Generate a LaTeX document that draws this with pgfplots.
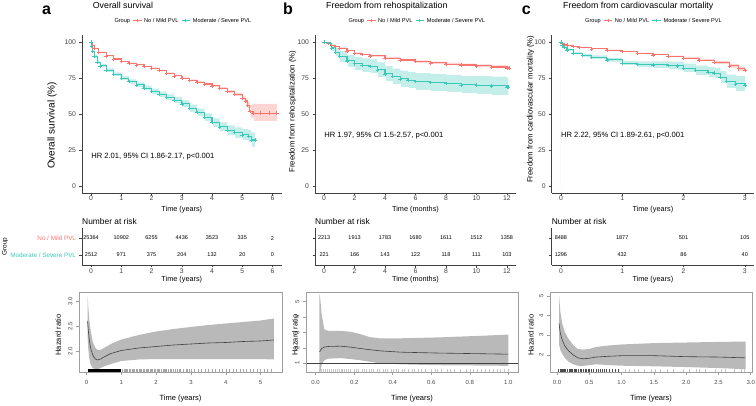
\documentclass[border=0pt]{standalone}
\usepackage{fontspec}
\setmainfont{Liberation Sans}
\usepackage{pgfplots}
\usepackage{pgfplotstable}
\pgfplotsset{compat=1.18}
\definecolor{kmred}{HTML}{F8766D}
\definecolor{kmteal}{HTML}{3CC8B9}
\definecolor{axc}{HTML}{404040}
\newcommand{\fs}[1]{\fontsize{#1}{#1}\selectfont}
\pgfplotsset{
 every axis/.append style={scale only axis, /pgf/number format/assume math mode=true},
 km/.style={height=158pt, ymin=-5, ymax=105, ytick={0,25,50,75,100}, axis on top,
   axis x line*=bottom, axis y line*=left,
   axis line style={-, axc, line width=0.5pt},
   tick align=outside, major tick length=2.5pt, tick style={axc, line width=0.5pt},
   ticklabel style={font=\fs{6.8}, text=black!75},
   xticklabel style={yshift=1.2pt, inner sep=1pt},
   xlabel style={font=\fs{7.3}, at={(axis description cs:0.5,-0.102)}, anchor=center, inner sep=1pt},
   ylabel style={font=\fs{7.8}, anchor=center}},
 risk/.style={height=37pt, ymin=0.4, ymax=2.6, ytick={1,2},
   axis x line*=bottom, axis y line*=left,
   axis line style={-, axc, line width=0.5pt},
   tick align=outside, major tick length=2.5pt, tick style={axc, line width=0.5pt},
   xticklabel style={font=\fs{6.8}, text=black!75, inner sep=1pt},
   yticklabel style={font=\fs{6.3}},
   xlabel style={font=\fs{7.3}, at={(axis description cs:0.5,-0.405)}, anchor=center, inner sep=1pt}},
 hr/.style={height=80pt, axis line style={gray!75, line width=0.5pt}, axis on top,
   tick align=outside, tick pos=left, major tick length=3pt, tick style={gray!75, line width=0.5pt},
   ticklabel style={font=\fs{6}, text=black!70},
   xticklabel style={yshift=-1.5pt},
   yticklabel style={rotate=90, anchor=south},
   xlabel style={font=\fs{7.5}, at={(axis description cs:0.5,-0.3375)}, anchor=center},
   ylabel style={font=\fs{7.5}, anchor=center}},
 kmline/.style={#1, const plot, line width=1.1pt, mark=+, mark size=1.8pt, mark options={line width=0.55pt}},
 riskn/.style={draw=none, nodes near coords, point meta=explicit symbolic,
   every node near coord/.style={font=\fs{5.5}, anchor=center, inner sep=0pt}},
}
\newcommand{\kmleg}[2]{%
 \begin{scope}[shift={(#1pt,#2pt)}]
  \node[anchor=west, font=\fs{5.6}, inner sep=0] at (0pt,0pt) {Group};
  \draw[kmred, line width=0.7pt] (19pt,0pt)--(27.4pt,0pt) (23.2pt,-1.7pt)--(23.2pt,1.7pt);
  \node[anchor=west, font=\fs{5.6}, inner sep=0] at (29.7pt,0pt) {No / Mild PVL};
  \draw[kmteal, line width=0.7pt] (67.4pt,0pt)--(75.7pt,0pt) (71.5pt,-1.7pt)--(71.5pt,1.7pt);
  \node[anchor=west, font=\fs{5.6}, inner sep=0] at (78.4pt,0pt) {Moderate / Severe PVL};
 \end{scope}}
\newcommand{\kmbands}[2]{%
 \addplot[const plot, fill=kmred!30, draw=none] table[x=t,y=hi]{#1} \closedcycle;
 \addplot[const plot, fill=white, draw=white, line width=0.6pt] table[x=t,y=lo]{#1} \closedcycle;
 \addplot[const plot, fill=kmteal!30, draw=none] table[x=t,y=hi]{#2} \closedcycle;
 \addplot[const plot, fill=white, draw=white, line width=0.6pt] table[x=t,y=lo]{#2} \closedcycle;
 \addplot[kmline=kmred] table[x=t,y=s]{#1};
 \addplot[kmline=kmteal] table[x=t,y=s]{#2};}

% ---------------- KM data ----------------
\pgfplotstableread{
t s lo hi
0 100 100 100
0.05 97.5 97.3 97.7
0.1 95.8 95.5 96.1
0.25 93 92.7 93.3
0.5 90.5 90.2 90.8
0.75 88.3 88 88.6
1 86.5 86.1 86.9
1.25 85.3 84.9 85.7
1.5 84.2 83.8 84.6
1.75 83 82.6 83.4
2 81.9 81.4 82.4
2.25 80.2 79.7 80.7
2.5 78.4 77.9 78.9
2.75 76.6 76.0 77.2
3 74.9 74.3 75.5
3.25 73.5 72.9 74.1
3.5 72.2 71.5 72.9
3.75 70.9 70.2 71.6
4 69.6 68.8 70.4
4.25 67.8 66.9 68.7
4.5 65.7 64.7 66.7
4.75 63.5 62.3 64.7
5 61 59.6 62.4
5.1 59.2 57.5 60.9
5.17 56 53.8 58.2
5.25 51.7 47 56.5
5.35 50.5 45 57
5.6 50.5 45 57
5.9 50.5 45 57
6.14 50.5 45 57
}\KMaR
\pgfplotstableread{
t s lo hi
0 100 100 100
0.02 97 96.3 97.7
0.05 93.5 92.6 94.4
0.1 90 89 91
0.2 86 84.9 87.1
0.3 83.5 82.3 84.7
0.5 80.5 79.2 81.8
0.75 77.5 76.1 78.9
1 75 73.5 76.5
1.25 72.5 70.9 74.1
1.5 70.3 68.6 72
1.75 68 66.2 69.8
2 65.7 63.8 67.6
2.25 63.5 61.5 65.5
2.5 61.5 59.4 63.6
2.75 59.5 57.2 61.8
3 57 54.6 59.4
3.25 54 51.4 56.6
3.5 51 48.2 53.8
3.75 47.5 44.6 50.4
4 44 41 47
4.25 41 37.8 44.2
4.5 38.5 35 42
4.75 37 33.3 40.7
5 35.5 31.5 39.5
5.2 34.5 30.3 38.7
5.3 32 27 37
5.42 32 27 37
}\KMaT
\pgfplotstableread{
t s lo hi
0 100 100 100
0.25 99 98.8 99.2
0.5 98 97.7 98.3
0.75 97 96.6 97.4
1 95.8 95.3 96.3
1.5 94 93.4 94.6
2 92.3 91.7 92.9
2.5 91.3 90.6 92
3 90.5 89.8 91.2
4 88.9 88.1 89.7
5 87.6 86.8 88.4
6 86.5 85.6 87.4
7 85.6 84.7 86.5
8 84.7 83.7 85.7
9 84.1 83.1 85.1
10 83.5 82.4 84.6
11 82.7 81.6 83.8
12 82 80.8 83.2
12.15 82 80.8 83.2
}\KMbR
\pgfplotstableread{
t s lo hi
0 100 100 100
0.4 99 98 100
0.5 96 93.5 98.5
0.75 93 90 96
1 90 86.2 93.8
1.5 87 82.8 91.2
2 85 80.3 89.7
2.5 84 79.2 88.8
3 83 78 88
3.5 80.7 75.5 85.9
4 78 72.6 83.4
4.5 76 70.4 81.6
5 74.5 68.8 80.2
5.5 73.5 67.7 79.3
6 72.6 66.7 78.5
7 71.9 65.9 77.9
8 71.2 65.1 77.3
9 70.3 64.1 76.5
10 70 63.7 76.3
11 69.6 63.2 76
12 68.7 62.3 75.1
12.1 68.7 62.3 75.1
}\KMbT
\pgfplotstableread{
t s lo hi
0 100 100 100
0.02 99 98.8 99.2
0.05 98.5 98.3 98.7
0.1 97.9 97.6 98.2
0.2 97 96.7 97.3
0.3 96.3 96 96.6
0.5 95.4 95.1 95.7
0.75 94.5 94.1 94.9
1 93.5 93.1 93.9
1.25 92.3 91.8 92.8
1.5 91.2 90.6 91.8
1.75 90 89.3 90.7
2 88.9 88.1 89.7
2.25 87.5 86.6 88.4
2.5 85.8 84.7 86.9
2.75 83.5 82.1 84.9
2.9 81.5 79.8 83.2
3 80.3 78.3 82.3
}\KMcR
\pgfplotstableread{
t s lo hi
0 100 100 100
0.02 98 97.5 98.5
0.05 96.3 95.6 97
0.1 94.7 93.9 95.5
0.2 92.3 91.3 93.3
0.35 90.8 89.7 91.9
0.5 89.6 88.4 90.8
0.75 87.7 86.3 89.1
1 85.4 83.8 87
1.25 84.6 82.5 86.7
1.5 84.2 81.8 86.6
1.75 83.8 81.2 86.4
1.9 83.5 80.7 86.3
2 81.9 78.8 85
2.2 80.3 77 83.6
2.4 79 75.4 82.6
2.5 78.4 74.6 82.2
2.6 75.6 71.4 79.8
2.7 72.6 67.8 77.4
2.85 71 65.5 76.5
3 70.3 64 76.6
}\KMcT
% ---------------- HR data ----------------
\pgfplotstableread{
t est
0.03 2.60
0.05 2.42
0.08 2.22
0.12 2.05
0.18 1.92
0.25 1.84
0.32 1.82
0.4 1.84
0.5 1.88
0.7 1.95
1.0 2.01
1.5 2.06
2.0 2.09
2.5 2.12
3.0 2.14
3.5 2.16
4.0 2.17
4.5 2.19
5.0 2.20
5.38 2.22
}\HRa
\pgfplotstableread{
t y
0.03 3.12
0.05 2.90
0.08 2.62
0.12 2.40
0.18 2.18
0.25 2.07
0.32 2.02
0.4 2.02
0.5 2.06
0.7 2.14
1.0 2.23
1.5 2.32
2.0 2.39
2.5 2.44
3.0 2.48
3.5 2.52
4.0 2.55
4.5 2.58
5.0 2.61
5.38 2.65
5.38 1.83
5.0 1.84
4.5 1.84
4.0 1.84
3.5 1.84
3.0 1.84
2.5 1.84
2.0 1.84
1.5 1.83
1.0 1.80
0.7 1.74
0.5 1.69
0.4 1.66
0.32 1.63
0.25 1.63
0.18 1.66
0.12 1.73
0.08 1.85
0.05 2.05
0.03 2.30
}\HRaCI
\pgfplotstableread{
t est
0.02 1.75
0.024 1.81
0.031 1.95
0.045 2.05
0.066 2.09
0.13 2.11
0.18 2.05
0.23 1.96
0.28 1.88
0.33 1.81
0.44 1.72
0.64 1.66
0.85 1.62
1.0 1.59
}\HRb
\pgfplotstableread{
t y
0.02 5.5
0.024 5.2
0.031 4.2
0.045 3.2
0.066 3.1
0.13 3.1
0.18 3.05
0.23 2.9
0.28 2.7
0.33 2.62
0.44 2.62
0.64 2.68
0.85 2.78
1.0 2.86
1.0 0.83
0.85 0.85
0.64 0.87
0.44 0.93
0.33 1.0
0.28 1.1
0.23 1.2
0.18 1.27
0.13 1.33
0.066 1.3
0.045 1.2
0.031 0.9
0.024 0.3
0.02 0.3
}\HRbCI
\pgfplotstableread{
t est
0.03 3.60
0.05 3.10
0.08 2.75
0.12 2.45
0.18 2.20
0.25 2.00
0.32 1.85
0.4 1.80
0.5 1.83
0.6 1.89
0.8 1.93
1.0 1.96
1.5 1.96
2.0 1.91
2.5 1.89
2.92 1.85
}\HRc
\pgfplotstableread{
t y
0.03 5.05
0.05 4.20
0.08 3.60
0.12 3.15
0.18 2.80
0.25 2.50
0.32 2.30
0.4 2.27
0.5 2.30
0.6 2.40
0.8 2.48
1.0 2.53
1.5 2.60
2.0 2.63
2.5 2.66
2.92 2.68
2.92 1.27
2.5 1.33
2.0 1.38
1.5 1.42
1.0 1.45
0.8 1.48
0.6 1.52
0.5 1.48
0.4 1.44
0.32 1.45
0.25 1.52
0.18 1.65
0.12 1.85
0.08 2.05
0.05 2.25
0.03 2.55
}\HRcCI

\begin{document}
\begin{tikzpicture}
\path[use as bounding box] (0pt,0pt) rectangle (756pt,405pt);

% titles and legends
\node[anchor=base west, font=\bfseries\fs{16}, inner sep=0] at (42pt,390pt) {a};
\node[anchor=base west, font=\fs{8.8}, inner sep=0] at (92.7pt,396.7pt) {Overall survival};
\node[anchor=base west, font=\bfseries\fs{16}, inner sep=0] at (283pt,390pt) {b};
\node[anchor=base west, font=\fs{8.8}, inner sep=0] at (326pt,396.7pt) {Freedom from rehospitalization};
\node[anchor=base west, font=\bfseries\fs{16}, inner sep=0] at (521.7pt,390pt) {c};
\node[anchor=base west, font=\fs{8.8}, inner sep=0] at (563pt,396.7pt) {Freedom from cardiovascular mortality};
\kmleg{114.3}{384.3}
\kmleg{348.3}{384.3}
\kmleg{585}{384.3}

% ================= KM a =================
\begin{axis}[km, at={(82pt,212pt)}, anchor=south west, width=199.6pt,
  xmin=-0.3, xmax=6.3, xtick={0,...,6}, xlabel={Time (years)}, ylabel={Overall survival (\%)},
  ylabel style={font=\fs{10}, at={(axis description cs:-0.15,0.427)}}]
\kmbands{\KMaR}{\KMaT}
\node[anchor=west, font=\fs{7.6}, inner sep=0] at (axis cs:0,20.5) {HR 2.01, 95\% CI 1.86-2.17, p<0.001};
\end{axis}

% ================= KM b =================
\begin{axis}[km, at={(315pt,212pt)}, anchor=south west, width=201pt,
  xmin=-0.6, xmax=12.6, xtick={0,2,...,12}, xlabel={Time (months)}, ylabel={Freedom from rehospitalization (\%)},
  ylabel style={at={(axis description cs:-0.111,0.515)}}]
\kmbands{\KMbR}{\KMbT}
\node[anchor=west, font=\fs{7.6}, inner sep=0] at (axis cs:0,34.7) {HR 1.97, 95\% CI 1.5-2.57, p<0.001};
\end{axis}

% ================= KM c =================
\begin{axis}[km, at={(551.7pt,212pt)}, anchor=south west, width=202.3pt,
  xmin=-0.15, xmax=3.15, xtick={0,...,3}, xlabel={Time (years)}, ylabel={Freedom from cardiovascular mortality (\%)},
  ylabel style={at={(axis description cs:-0.104,0.53)}}]
\kmbands{\KMcR}{\KMcT}
\node[anchor=west, font=\fs{7.6}, inner sep=0] at (axis cs:0,35) {HR 2.22, 95\% CI 1.89-2.61, p<0.001};
\end{axis}

% ================= risk tables =================
\node[anchor=west, font=\fs{8.4}, inner sep=0] at (82pt,184pt) {Number at risk};
\node[anchor=west, font=\fs{8.4}, inner sep=0] at (315pt,184pt) {Number at risk};
\node[anchor=west, font=\fs{8.4}, inner sep=0] at (551.7pt,184pt) {Number at risk};

\begin{axis}[risk, at={(82pt,140pt)}, anchor=south west, width=199.6pt,
  xmin=-0.3, xmax=6.3, xtick={0,...,6}, xlabel={Time (years)},
  yticklabels={{\color{kmteal}Moderate / Severe PVL},{\color{kmred}No / Mild PVL}},
  ylabel={Group}, ylabel style={font=\fs{6.5}, at={(axis description cs:-0.386,0.5)}, anchor=center}]
\addplot[riskn] coordinates {(0,2)[25364] (1,2)[10902] (2,2)[6255] (3,2)[4436] (4,2)[3523] (5,2)[335] (6,2)[2]};
\addplot[riskn] coordinates {(0,1)[2512] (1,1)[971] (2,1)[375] (3,1)[204] (4,1)[132] (5,1)[20] (6,1)[0]};
\end{axis}

\begin{axis}[risk, at={(315pt,140pt)}, anchor=south west, width=201pt,
  xmin=-0.6, xmax=12.6, xtick={0,2,...,12}, xlabel={Time (months)}, yticklabels={,}]
\addplot[riskn] coordinates {(0,2)[2213] (2,2)[1913] (4,2)[1783] (6,2)[1680] (8,2)[1611] (10,2)[1512] (12,2)[1358]};
\addplot[riskn] coordinates {(0,1)[221] (2,1)[166] (4,1)[143] (6,1)[122] (8,1)[118] (10,1)[111] (12,1)[103]};
\end{axis}

\begin{axis}[risk, at={(551.7pt,140pt)}, anchor=south west, width=202.3pt,
  xmin=-0.15, xmax=3.15, xtick={0,...,3}, xlabel={Time (years)}, yticklabels={,}]
\addplot[riskn] coordinates {(0,2)[8488] (1,2)[1877] (2,2)[501] (3,2)[105]};
\addplot[riskn] coordinates {(0,1)[1296] (1,1)[432] (2,1)[86] (3,1)[40]};
\end{axis}

% ================= HR a =================
\begin{axis}[hr, at={(79pt,33pt)}, anchor=south west, width=203pt,
  xmin=-0.216, xmax=5.616, ymin=1.58, ymax=3.18, xtick={0,...,5},
  ytick={2,2.5,3}, yticklabels={2.0,2.5,3.0}, xlabel={Time (years)}, ylabel={Hazard ratio},
  ylabel style={at={(axis description cs:-0.103,0.4625)}}]
\addplot[fill=gray!55, draw=none] table[x=t,y=y]{\HRaCI};
\addplot[black!75, line width=0.6pt] table[x=t,y=est]{\HRa};
\addplot[black, line width=2.6pt] coordinates {(0.03,1.606) (1.0,1.606)};
\addplot[only marks, mark=|, mark size=1.3pt, gray!70, mark options={line width=0.35pt}] table[y expr=1.606] {
x
1.03
1.07
1.1
1.14
1.18
1.22
1.25
1.3
1.34
1.38
1.42
1.45
1.5
1.55
1.58
1.62
1.66
1.7
1.75
1.78
1.82
1.86
1.9
1.95
1.98
2.02
2.06
2.1
2.15
2.19
2.22
2.26
2.3
2.35
2.4
2.44
2.5
2.55
2.6
2.65
2.7
2.78
2.85
2.9
2.96
3.02
3.1
3.2
3.3
3.4
3.5
3.6
3.7
3.8
3.9
4.0
4.1
4.2
4.3
4.4
4.5
4.6
4.7
4.8
4.9
5.0
5.1
5.2
5.3
};
\end{axis}

% ================= HR b =================
\begin{axis}[hr, at={(306pt,33pt)}, anchor=south west, width=212pt,
  xmin=-0.05, xmax=1.05, ymin=0.43, ymax=5.63, xtick={0,0.2,...,1.0},
  xticklabels={0.0,0.2,0.4,0.6,0.8,1.0}, ytick={1,...,5}, xlabel={Time (years)}, ylabel={Hazard ratio},
  ylabel style={at={(axis description cs:-0.052,0.4625)}}]
\addplot[fill=gray!55, draw=none] table[x=t,y=y]{\HRbCI};
\addplot[black!75, line width=0.6pt] table[x=t,y=est]{\HRb};
\addplot[black!75, line width=0.6pt] coordinates {(-0.05,1) (1.05,1)};
\addplot[only marks, mark=|, mark size=1.3pt, gray!45, mark options={line width=0.35pt}] table[y expr=0.515] {
x
0.02
0.03
0.04
0.05
0.06
0.07
0.08
0.09
0.10
0.11
0.12
0.13
0.14
0.15
0.16
0.17
0.18
0.20
0.21
0.22
0.24
0.25
0.26
0.28
0.29
0.30
0.32
0.33
0.35
0.36
0.37
0.39
0.40
0.42
0.43
0.45
0.46
0.48
0.50
0.51
0.53
0.55
0.57
0.60
0.62
0.63
0.65
0.68
0.70
0.72
0.75
0.78
0.80
0.82
0.84
0.86
0.88
0.90
0.92
0.94
0.96
0.98
1.00
};
\end{axis}

% ================= HR c =================
\begin{axis}[hr, at={(550pt,33pt)}, anchor=south west, width=202pt,
  xmin=-0.11, xmax=3.02, ymin=1.13, ymax=5.2, xtick={0,0.5,...,3.0},
  xticklabels={0.0,0.5,1.0,1.5,2.0,2.5,3.0}, ytick={2,...,5}, xlabel={Time (years)}, ylabel={Hazard ratio},
  ylabel style={at={(axis description cs:-0.094,0.4625)}}]
\addplot[fill=gray!55, draw=none] table[x=t,y=y]{\HRcCI};
\addplot[black!75, line width=0.6pt] table[x=t,y=est]{\HRc};
\addplot[only marks, mark=|, mark size=1.3pt, black!70, mark options={line width=0.35pt}] table[y expr=1.196] {
x
0.02
0.04
0.05
0.07
0.08
0.1
0.11
0.13
0.15
0.16
0.18
0.2
0.22
0.24
0.26
0.28
0.3
0.33
0.35
0.37
0.4
0.43
0.45
0.48
0.5
0.53
0.56
0.6
0.63
0.66
0.7
0.73
0.76
0.8
0.85
0.9
0.95
};
\addplot[only marks, mark=|, mark size=1.3pt, gray!45, mark options={line width=0.35pt}] table[y expr=1.196] {
x
1.05
1.12
1.2
1.25
1.35
1.45
1.52
1.6
1.7
1.8
1.95
2.05
2.15
2.2
2.3
2.45
2.55
2.6
2.75
2.85
2.9
};
\end{axis}
\end{tikzpicture}
\end{document}
